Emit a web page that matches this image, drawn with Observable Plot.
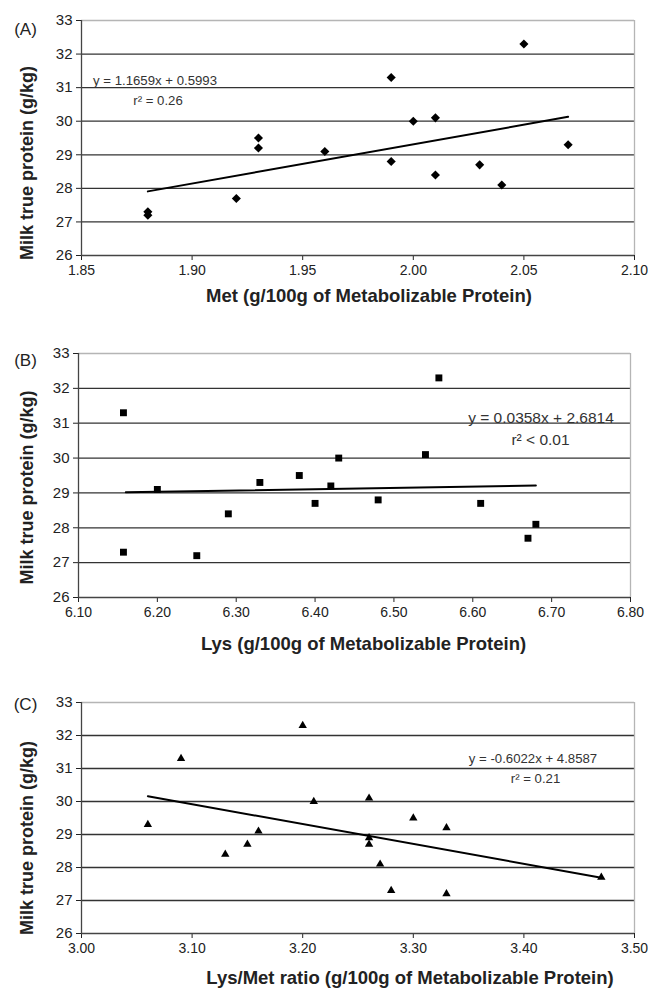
<!DOCTYPE html>
<html>
<head>
<meta charset="utf-8">
<script src="https://cdn.jsdelivr.net/npm/d3@7"></script>
<script src="https://cdn.jsdelivr.net/npm/@observablehq/plot@0.6"></script>
<style>
  html, body { margin: 0; padding: 0; background: #fff; }
  #root svg { display: block; }
</style>
</head>
<body>
<div id="root"></div>
<script>
// ---------- Data ----------
const yTicks = [26, 27, 28, 29, 30, 31, 32, 33];
const yGrid = [27, 28, 29, 30, 31, 32];

// Panel A: Met
const metX = [1.88, 1.88, 1.92, 1.93, 1.93, 1.96, 1.99, 1.99, 2.00, 2.01, 2.01, 2.03, 2.04, 2.05, 2.07];
const metY = [27.3, 27.2, 27.7, 29.5, 29.2, 29.1, 31.3, 28.8, 30.0, 30.1, 28.4, 28.7, 28.1, 32.3, 29.3];
const metTicks = [1.85, 1.90, 1.95, 2.00, 2.05, 2.10];
const metTrendX = [1.88, 2.07];
const metTrendY = [27.91, 30.13];

// Panel B: Lys
const lysX = [6.157, 6.157, 6.20, 6.25, 6.29, 6.33, 6.38, 6.40, 6.42, 6.43, 6.48, 6.54, 6.557, 6.61, 6.67, 6.68];
const lysY = [31.3, 27.3, 29.1, 27.2, 28.4, 29.3, 29.5, 28.7, 29.2, 30.0, 28.8, 30.1, 32.3, 28.7, 27.7, 28.1];
const lysTicks = [6.10, 6.20, 6.30, 6.40, 6.50, 6.60, 6.70, 6.80];
const lysTrendX = [6.16, 6.68];
const lysTrendY = [29.02, 29.21];

// Panel C: Lys/Met ratio
const ratioX = [3.06, 3.09, 3.13, 3.15, 3.16, 3.20, 3.21, 3.26, 3.26, 3.26, 3.27, 3.28, 3.30, 3.33, 3.33, 3.47];
const ratioY = [29.3, 31.3, 28.4, 28.7, 29.1, 32.3, 30.0, 30.1, 28.9, 28.7, 28.1, 27.3, 29.5, 29.2, 27.2, 27.7];
const ratioTicks = [3.00, 3.10, 3.20, 3.30, 3.40, 3.50];
const ratioTrendX = [3.06, 3.47];
const ratioTrendY = [30.16, 27.69];

const panels = [
  {
    tag: "(A)", xs: metX, ys: metY, xTicks: metTicks, tx: metTrendX, ty: metTrendY,
    symbol: "diamond2", r: 4.1,
    xTitle: "Met (g/100g of Metabolizable Protein)",
    eq: "y = 1.1659x + 0.5993", r2: "r\u00b2 = 0.26", eqSize: 13.2,
    height: 320, mt: 20, mb: 65, ml: 81, mr: 14,
    eqPos: [73.5, 55], r2Pos: [76.5, 75],
    tagPos: [-56, 2], xtPos: [11, 46], ytPos: [-54, 25]
  },
  {
    tag: "(B)", xs: lysX, ys: lysY, xTicks: lysTicks, tx: lysTrendX, ty: lysTrendY,
    symbol: "square", r: 3.9,
    xTitle: "Lys (g/100g of Metabolizable Protein)",
    eq: "y = 0.0358x + 2.6814", r2: "r\u00b2 < 0.01", eqSize: 15.5,
    height: 330, mt: 33, mb: 53, ml: 78, mr: 18,
    eqPos: [462.5, 58], r2Pos: [462, 80],
    tagPos: [-53, 0], xtPos: [9, 52], ytPos: [-51, 12]
  },
  {
    tag: "(C)", xs: ratioX, ys: ratioY, xTicks: ratioTicks, tx: ratioTrendX, ty: ratioTrendY,
    symbol: "triangle", r: 3.1,
    xTitle: "Lys/Met ratio (g/100g of Metabolizable Protein)",
    eq: "y = -0.6022x + 4.8587", r2: "r\u00b2 = 0.21", eqSize: 13.2,
    height: 344, mt: 52, mb: 61, ml: 81, mr: 14,
    eqPos: [451.5, 51], r2Pos: [454, 71],
    tagPos: [-56, -5], xtPos: [52, 50], ytPos: [-54, 20]
  }
];

const root = document.getElementById("root");

for (const p of panels) {
  const pts = p.xs.map((x, i) => ({x, y: p.ys[i]}));
  const trend = p.tx.map((x, i) => ({x, y: p.ty[i]}));
  const xMin = p.xTicks[0], xMax = p.xTicks[p.xTicks.length - 1];
  const plot = Plot.plot({
    width: 648,
    height: p.height,
    marginTop: p.mt,
    marginBottom: p.mb,
    marginLeft: p.ml,
    marginRight: p.mr,
    style: {fontFamily: "'Liberation Sans', Arial, sans-serif", fontSize: "15px", color: "#222", background: "#fff", overflow: "visible"},
    x: {domain: [xMin, xMax], label: null},
    y: {domain: [26, 33], label: null},
    marks: [
      Plot.axisX({ticks: p.xTicks, tickFormat: d3.format(".2f"), tickSize: 5, tickPadding: 5, fontSize: 14, label: null}),
      Plot.axisY({ticks: yTicks, tickFormat: d3.format("d"), tickSize: 5, tickPadding: 4, fontSize: 15, label: null}),
      Plot.ruleY(yGrid, {stroke: "#333", strokeWidth: 1.3}),
      Plot.ruleY([33], {stroke: "#b5b5b5", strokeWidth: 1.3}),
      Plot.ruleX([xMax], {stroke: "#b5b5b5", strokeWidth: 1.3}),
      Plot.ruleX([xMin], {stroke: "#444", strokeWidth: 1.3}),
      Plot.ruleY([26], {stroke: "#444", strokeWidth: 1.3}),
      Plot.line(trend, {x: "x", y: "y", stroke: "#000", strokeWidth: 2}),
      Plot.dot(pts, {x: "x", y: "y", symbol: () => p.symbol, r: p.r, fill: "#000", stroke: "none"}),
      Plot.text([p.eq], {frameAnchor: "top-left", text: d => d, dx: p.eqPos[0], dy: p.eqPos[1], fontSize: p.eqSize, fill: "#333", textAnchor: "middle"}),
      Plot.text([p.r2], {frameAnchor: "top-left", text: d => d, dx: p.r2Pos[0], dy: p.r2Pos[1], fontSize: p.eqSize, fill: "#333", textAnchor: "middle"}),
      Plot.text([p.tag], {frameAnchor: "top-left", text: d => d, dx: p.tagPos[0], dy: p.tagPos[1], fontSize: 17, fill: "#222", textAnchor: "middle"}),
      Plot.text([p.xTitle], {frameAnchor: "bottom", text: d => d, dx: p.xtPos[0], dy: p.xtPos[1], fontSize: 18.5, fontWeight: "bold", fill: "#222", textAnchor: "middle"}),
      Plot.text(["Milk true protein (g/kg)"], {frameAnchor: "left", text: d => d, dx: p.ytPos[0], dy: p.ytPos[1], rotate: -90, fontSize: 18, fontWeight: "bold", fill: "#222", textAnchor: "middle"})
    ]
  });
  root.appendChild(plot);
}
</script>
</body>
</html>
